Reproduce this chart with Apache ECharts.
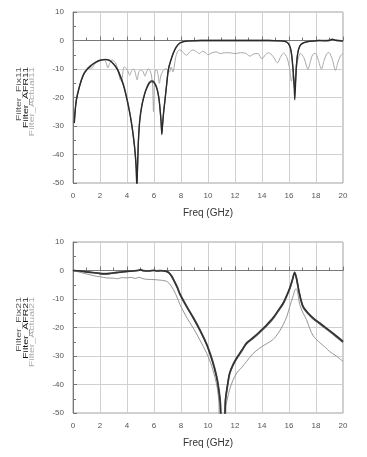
<!DOCTYPE html>
<html><head><meta charset="utf-8">
<script src="https://cdn.jsdelivr.net/npm/echarts@6/dist/echarts.min.js"></script>
<style>html,body{margin:0;padding:0;background:#fff}#c{width:367px;height:457px}</style>
</head><body><div id="c"></div>
<script>
// ---- S11 (top chart) ----
const afr11Freq = [0.1,0.17,0.25,0.42,0.6,0.78,1.0,1.28,1.6,2.0,2.4,2.7,3.0,3.3,3.5,3.75,4.0,4.2,4.36,4.5,4.6,4.68,4.73,4.78,4.85,4.95,5.1,5.3,5.47,5.65,5.84,6.0,6.2,6.35,6.45,6.53,6.58,6.63,6.72,6.82,6.95,7.07,7.25,7.44,7.65,7.93,8.3,8.67,9.5,10.5,11.5,12.5,13.5,14.5,15.3,15.7,15.95,16.1,16.2,16.3,16.38,16.43,16.48,16.55,16.65,16.8,17.0,17.4,17.8,18.2,18.6,19.0,19.2,19.5,20];
const afr11 = [-29,-24.3,-21,-17.3,-14.3,-12,-10.4,-9.1,-7.9,-7,-6.7,-7,-8.3,-10.3,-12.6,-16,-20.8,-25.5,-30,-35,-39.5,-45,-52,-45,-35,-28,-23,-19,-16.7,-15,-14.4,-14.8,-16.7,-20,-24.3,-29,-33,-30,-25,-20.8,-15,-10.2,-7,-4.4,-2.3,-0.9,-0.3,-0.1,0,0,0,0,0,0,-0.1,-0.3,-1,-2.5,-5,-10,-16,-20.8,-16,-9,-4.5,-2,-1,-0.4,-0.2,0,-0.1,0,0.5,0,-0.2];
const fix11 = [-28,-23.8,-20.6,-17,-14,-11.8,-10.2,-8.9,-7.8,-6.9,-6.6,-6.9,-8.1,-10,-12.3,-15.6,-20.3,-25,-29.5,-34.5,-39,-44,-50,-44,-34.5,-27.5,-22.6,-18.7,-16.4,-14.7,-14.1,-14.5,-16.4,-19.6,-23.8,-28.5,-32.5,-29.5,-24.6,-20.4,-14.6,-9.9,-6.8,-4.2,-2.2,-0.8,-0.2,-0.1,0,0,0,0,0,0,-0.1,-0.3,-1.1,-2.8,-5.5,-10.5,-15,-17.5,-14.5,-8.5,-4.3,-1.9,-1,-0.4,-0.2,0,0,0.1,0.4,0.1,-0.1];
const actual11Freq = [0.1,0.17,0.25,0.42,0.6,0.78,1.0,1.2,1.4,1.55,1.7,2.0,2.3,2.45,2.58,2.72,2.88,3.05,3.2,3.35,3.5,3.6,3.7,3.8,3.95,4.05,4.2,4.35,4.5,4.62,4.75,4.88,5.05,5.2,5.33,5.45,5.57,5.7,5.82,5.9,5.96,6.02,6.08,6.2,6.3,6.4,6.5,6.65,6.8,6.9,7.05,7.15,7.27,7.4,7.5,7.6,7.75,7.9,8.1,8.4,8.65,8.9,9.15,9.35,9.6,9.8,10.0,10.3,10.6,10.9,11.2,11.6,12.0,12.4,12.8,13.1,13.4,13.7,14.0,14.25,14.5,14.8,15.15,15.35,15.6,15.85,16.05,16.18,16.3,16.4,16.5,16.65,16.85,17.1,17.3,17.4,17.55,17.75,17.95,18.15,18.4,18.6,18.8,18.95,19.2,19.45,19.6,19.8,20];
const actual11 = [-28,-24,-21,-17.5,-14.5,-12.2,-10.6,-9.6,-9.7,-8.6,-7.9,-7.1,-6.6,-7.8,-9.6,-8,-6.8,-7.3,-8.3,-11,-13.8,-14.2,-11,-9.2,-9.8,-10.5,-12.2,-10.5,-10,-11.5,-13.8,-11,-10.4,-11,-12.5,-11,-9.9,-10.5,-12.5,-16,-25,-16,-10.7,-10.3,-12,-15,-12.5,-10.8,-10,-10,-10.6,-11,-9.3,-11,-9,-6,-3.8,-3.3,-3.8,-5.2,-4,-3.3,-3.9,-4.6,-3.8,-4.2,-5,-4.3,-4,-4.6,-4.3,-4.3,-4.6,-4.3,-4.5,-5.5,-4.7,-4.6,-6.5,-5,-4.3,-5.5,-7.8,-6,-4.4,-6,-10,-14.3,-12,-15,-12,-7,-4.5,-6,-9,-10.2,-8,-5,-4.5,-6.5,-10,-7,-4.6,-4.2,-6.5,-10.5,-8,-5.5,-4.5];

// ---- S21 (bottom chart) ----
const afr21Freq = [0,0.5,1,1.5,2.0,2.3,2.7,3.0,3.5,4.0,4.5,4.9,5.0,5.2,5.6,6.0,6.2,6.5,6.9,7.1,7.3,7.5,7.75,7.93,8.4,8.91,9.4,9.9,10.2,10.5,10.7,10.9,11.0,11.2,11.3,11.45,11.6,11.85,12.12,12.5,12.86,13.4,13.84,14.3,14.8,15.2,15.57,15.85,16.06,16.25,16.42,16.55,16.75,17.04,17.4,17.8,18.3,18.77,19.2,19.6,20];
const afr21 = [0,-0.2,-0.5,-0.8,-1.1,-1.2,-1.1,-0.9,-0.6,-0.3,-0.2,0.1,0.3,-0.1,-0.2,0,-0.2,-0.1,-0.3,-0.8,-2,-3.8,-6.3,-8.5,-12.6,-16.7,-21,-26,-30,-34.8,-39,-46,-52,-52,-45,-40,-36,-33,-30.7,-28,-25.4,-23.3,-21.4,-19.3,-16.7,-14,-11.4,-8.5,-6.1,-3.2,-0.6,-2.5,-7.5,-12.6,-14.8,-16.7,-18.5,-20.2,-21.8,-23.3,-24.9];
const fix21 = [0,-0.1,-0.4,-0.7,-1.0,-1.1,-1.0,-0.8,-0.5,-0.3,-0.1,0.1,0.2,0,-0.1,0.1,-0.1,0,-0.2,-0.7,-1.8,-3.6,-6.0,-8.2,-12.3,-16.4,-20.7,-25.7,-29.6,-34.3,-38.5,-45,-52,-52,-45.5,-40.5,-36.4,-33.3,-31,-28.3,-25.7,-23.6,-21.7,-19.6,-17,-14.3,-11.7,-8.8,-6.4,-3.5,-0.9,-2.8,-7.8,-12.9,-15.1,-17,-18.8,-20.5,-22.1,-23.6,-25.2];
const actual21Freq = [0,0.5,1,1.5,2.0,2.5,3.0,3.3,3.6,4.0,4.3,4.6,4.9,5.2,5.5,6.0,6.5,6.8,7.0,7.2,7.44,7.7,7.93,8.4,8.91,9.4,9.9,10.2,10.5,10.7,10.8,10.9,11.26,11.35,11.6,11.85,12.12,12.5,12.86,13.3,13.84,14.3,14.8,15.2,15.57,15.85,16.06,16.3,16.5,16.6,16.8,17.05,17.3,17.55,17.8,18.3,18.7,19.0,19.5,20];
const actual21 = [0,-0.6,-1.2,-1.8,-2.2,-2.6,-2.7,-2.9,-2.5,-2.6,-2.4,-2.8,-2.4,-2.9,-3.1,-3.2,-3.4,-3.6,-4,-5,-6.7,-9.3,-12,-16.3,-20.2,-24.4,-29,-32.5,-37.2,-41.5,-46,-52,-52,-47,-41.8,-38.5,-36,-34,-31.9,-29.3,-27.2,-25.8,-24.3,-22,-19,-16,-12.6,-9,-6.5,-6.8,-12,-15,-17.3,-20.5,-23,-25.4,-27,-28.4,-30,-31.9];

const xTicks = [0,2,4,6,8,10,12,14,16,18,20];
const yTicks = [10,0,-10,-20,-30,-40,-50];

function pairs(xs, ys){ return xs.map((x,i)=>[x, ys[i]]); }

const FONT = 'Liberation Sans';
const chart = echarts.init(document.getElementById('c'), null, {renderer:'canvas'});
const gridTops = [12, 242];
const grids = gridTops.map(t => ({left:73, right:24, top:t, height:171, show:true, borderColor:'#a0a0a0', borderWidth:1, backgroundColor:'transparent'}));

function xAxis(i){ return {
  gridIndex:i, type:'value', min:xTicks[0], max:xTicks[xTicks.length-1], interval:2,
  name:'Freq (GHz)', nameLocation:'middle', nameGap:25,
  nameTextStyle:{fontFamily:FONT, fontSize:10, color:'#333'},
  axisLine:{show:true, lineStyle:{color:'#777', width:1}},
  axisTick:{show:true, inside:true, length:4, lineStyle:{color:'#777'}},
  minorTick:{show:true, splitNumber:2, length:3, lineStyle:{color:'#777'}},
  splitLine:{show:true, lineStyle:{color:'#d0d0d0', width:1}},
  axisLabel:{fontFamily:FONT, fontSize:8, color:'#555', margin:9}
};}
function yAxis(i){ return {
  gridIndex:i, type:'value', min:yTicks[yTicks.length-1], max:yTicks[0], interval:10,
  axisLine:{show:true, lineStyle:{color:'#777', width:1}},
  axisTick:{show:true, inside:true, length:4, lineStyle:{color:'#777'}},
  minorTick:{show:true, splitNumber:2, length:3, lineStyle:{color:'#777'}},
  splitLine:{show:true, lineStyle:{color:'#d0d0d0', width:1}},
  axisLabel:{fontFamily:FONT, fontSize:8, color:'#555', margin:9}
};}

function line(i, data, color, width, z){ return {
  type:'line', xAxisIndex:i, yAxisIndex:i, data:data, showSymbol:false, symbol:'none',
  smooth:0.3, lineStyle:{color:color, width:width}, clip:true, z:z, animation:false
};}

const names = [['Filter_Fix11','Filter_AFR11','Filter_Actual11'],['Filter_Fix21','Filter_AFR21','Filter_Actual21']];
const nameColors = ['#555','#111','#aaa'];
const nameX = [19, 25.5, 32];
const graphics = [];
gridTops.forEach((t, gi) => {
  names[gi].forEach((s, k) => {
    graphics.push({type:'text', x:nameX[k], y:t+55, rotation:Math.PI/2, scaleX:1.4, scaleY:1,
      style:{text:s, fill:nameColors[k], font:'7.5px "'+FONT+'"', textAlign:'right', textVerticalAlign:'middle'}});
  });
});

chart.setOption({
  animation:false,
  grid:grids,
  xAxis:[xAxis(0), xAxis(1)],
  yAxis:[yAxis(0), yAxis(1)],
  graphic:graphics,
  series:[
    line(0, pairs(actual11Freq, actual11), '#a8a8a8', 1, 2),
    line(0, pairs(afr11Freq, fix11), '#606060', 1.3, 3),
    line(0, pairs(afr11Freq, afr11), '#2a2a2a', 1.3, 4),
    line(1, pairs(actual21Freq, actual21), '#8a8a8a', 0.9, 2),
    line(1, pairs(afr21Freq, fix21), '#606060', 1.6, 3),
    line(1, pairs(afr21Freq, afr21), '#333', 1.6, 4)
  ]
});
</script></body></html>
